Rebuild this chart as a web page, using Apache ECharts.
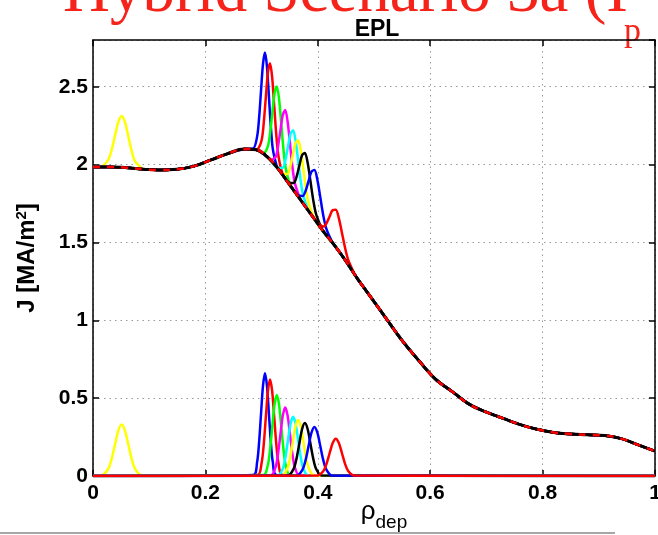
<!DOCTYPE html>
<html><head><meta charset="utf-8">
<script src="https://cdn.jsdelivr.net/npm/echarts@6/dist/echarts.min.js"></script>
<style>html,body{margin:0;padding:0;background:#fff}#c{width:658px;height:535px}</style>
</head><body><div id="c"></div>
<script>
// ---- data ----
const xTicks = [0, 0.2, 0.4, 0.6, 0.8, 1];
const yTicks = [0, 0.5, 1, 1.5, 2, 2.5];
const baseRho = [0, 0.03, 0.06, 0.09, 0.12, 0.15, 0.18, 0.21, 0.24, 0.27, 0.29, 0.31, 0.33, 0.35, 0.37, 0.39, 0.41, 0.43, 0.45, 0.47, 0.49, 0.52, 0.55, 0.58, 0.61, 0.64, 0.67, 0.70, 0.73, 0.76, 0.79, 0.82, 0.85, 0.88, 0.91, 0.94, 0.97, 1.0];
const baseJ   = [1.985, 1.985, 1.98, 1.97, 1.965, 1.97, 1.99, 2.03, 2.07, 2.10, 2.095, 2.05, 1.97, 1.87, 1.77, 1.67, 1.57, 1.48, 1.38, 1.27, 1.17, 1.02, 0.87, 0.74, 0.62, 0.54, 0.46, 0.41, 0.37, 0.33, 0.30, 0.28, 0.27, 0.265, 0.26, 0.24, 0.20, 0.16];

// deposition profiles [rho, J]
const depYellow0 = [[0.015,0.004],[0.027,0.045],[0.033,0.107],[0.039,0.20],[0.045,0.29],[0.051,0.33],[0.057,0.29],[0.063,0.20],[0.069,0.107],[0.075,0.045],[0.087,0.004]];
const depBlue1   = [[0.285,0.007],[0.292,0.089],[0.2955,0.215],[0.299,0.40],[0.3025,0.58],[0.306,0.66],[0.3095,0.58],[0.313,0.40],[0.3165,0.215],[0.320,0.089],[0.327,0.007]];
const depRed1    = [[0.2925,0.007],[0.300,0.084],[0.30375,0.20],[0.3075,0.376],[0.31125,0.547],[0.315,0.62],[0.31875,0.547],[0.3225,0.376],[0.32625,0.20],[0.330,0.084],[0.3375,0.007]];
const depGreen   = [[0.303,0.006],[0.311,0.070],[0.315,0.169],[0.319,0.316],[0.323,0.459],[0.327,0.52],[0.331,0.459],[0.335,0.316],[0.339,0.169],[0.343,0.070],[0.351,0.006]];
const depMagenta = [[0.3165,0.005],[0.325,0.059],[0.32925,0.143],[0.3335,0.267],[0.33775,0.388],[0.342,0.44],[0.34625,0.388],[0.3505,0.267],[0.35475,0.143],[0.359,0.059],[0.3675,0.005]];
const depCyan    = [[0.329,0.004],[0.338,0.051],[0.3425,0.124],[0.347,0.231],[0.3515,0.335],[0.356,0.38],[0.3605,0.335],[0.365,0.231],[0.3695,0.124],[0.374,0.051],[0.383,0.004]];
const depYellow1 = [[0.3365,0.004],[0.346,0.049],[0.35075,0.117],[0.3555,0.219],[0.36025,0.318],[0.365,0.36],[0.36975,0.318],[0.3745,0.219],[0.37925,0.117],[0.384,0.049],[0.3935,0.004]];
const depBlack   = [[0.347,0.004],[0.357,0.046],[0.362,0.11],[0.367,0.206],[0.372,0.30],[0.377,0.34],[0.382,0.30],[0.387,0.206],[0.392,0.11],[0.397,0.046],[0.407,0.004]];
const depBlue2   = [[0.3625,0.003],[0.373,0.043],[0.37825,0.102],[0.3835,0.191],[0.38875,0.278],[0.394,0.315],[0.39925,0.278],[0.4045,0.191],[0.40975,0.102],[0.415,0.043],[0.4255,0.003]];
const depRed2    = [[0.399,0.003],[0.410,0.032],[0.4155,0.078],[0.421,0.146],[0.4265,0.212],[0.432,0.24],[0.4375,0.212],[0.443,0.146],[0.4485,0.078],[0.454,0.032],[0.465,0.003]];

const profiles = [
  {d: depYellow0, c: '#ffff00'},
  {d: depBlue1,   c: '#0000ff'},
  {d: depRed1,    c: '#ff0000'},
  {d: depGreen,   c: '#00ff00'},
  {d: depMagenta, c: '#ff00ff'},
  {d: depCyan,    c: '#00ffff'},
  {d: depYellow1, c: '#ffff00'},
  {d: depBlack,   c: '#000000'},
  {d: depBlue2,   c: '#0000ff'},
  {d: depRed2,    c: '#ff0000'}
];

// ---- build ----
function baseAt(r) {
  for (let i = 0; i < baseRho.length - 1; i++) {
    if (r >= baseRho[i] && r <= baseRho[i + 1]) {
      const t = (r - baseRho[i]) / (baseRho[i + 1] - baseRho[i]);
      return baseJ[i] + t * (baseJ[i + 1] - baseJ[i]);
    }
  }
  return baseJ[baseJ.length - 1];
}
function topData(dep) {
  const r0 = dep[0][0], r1 = dep[dep.length - 1][0];
  const pts = [];
  baseRho.forEach((r, i) => { if (r < r0) pts.push([r, baseJ[i]]); });
  dep.forEach(p => pts.push([p[0], baseAt(p[0]) + p[1]]));
  baseRho.forEach((r, i) => { if (r > r1) pts.push([r, baseJ[i]]); });
  return pts;
}
function bottomData(dep) {
  return [[0, 0]].concat(dep, [[1, 0]]);
}
const baseData = baseRho.map((r, i) => [r, baseJ[i]]);

const series = [];
profiles.forEach(p => {
  series.push({type: 'line', data: bottomData(p.d), showSymbol: false, smooth: 0.3,
    lineStyle: {color: p.c, width: 2.5}, silent: true});
});
profiles.forEach(p => {
  series.push({type: 'line', data: topData(p.d), showSymbol: false, smooth: 0.3,
    lineStyle: {color: p.c, width: 2.5}, silent: true});
});
series.push({type: 'line', data: baseData, showSymbol: false, smooth: 0.5,
  lineStyle: {color: '#000', width: 3}, silent: true});
series.push({type: 'line', data: baseData, showSymbol: false, smooth: 0.5,
  lineStyle: {color: '#ff0000', width: 2.5, type: [7, 7]}, silent: true});

const font = '"Liberation Sans", Arial, sans-serif';
const chart = echarts.init(document.getElementById('c'), null, {renderer: 'canvas'});
const axisLine = {show: true, onZero: false, lineStyle: {color: '#000', width: 1.5}};
chart.setOption({
  animation: false,
  backgroundColor: '#fff',
  grid: {left: 93, right: 3, top: 40, bottom: 59, containLabel: false, outerBoundsMode: 'none'},
  graphic: [
    {type: 'text', left: 63, top: -39, z: 0, style: {text: 'Hybrid Scenario 3a (I', fill: '#f5231a', font: '65px "Liberation Serif", "Times New Roman", serif'}},
    {type: 'text', left: 624, top: 15, z: 0, style: {text: 'p', fill: '#f5231a', font: '34px "Liberation Serif", "Times New Roman", serif'}},
    {type: 'text', x: 377, y: 30, z: 10, style: {text: 'EPL', fill: '#000', font: 'bold 23px ' + font, textAlign: 'center', textVerticalAlign: 'middle'}},
    {type: 'line', z: 0, shape: {x1: 0, y1: 533, x2: 615, y2: 533}, style: {stroke: '#8a8a8a', lineWidth: 1.5}}
  ],
  xAxis: [{
    type: 'value', min: xTicks[0], max: xTicks[xTicks.length - 1], interval: 0.2, position: 'bottom',
    axisLine: axisLine,
    axisTick: {show: true, inside: true, length: 6, lineStyle: {color: '#000', width: 1.5}},
    axisLabel: {color: '#000', fontWeight: 'bold', fontSize: 21, fontFamily: font, margin: 7},
    splitLine: {show: true, lineStyle: {color: '#9a9a9a', type: [1.5, 4], width: 1}},
    name: '{r|ρ}{s|dep}', nameLocation: 'middle', nameGap: 21, nameMoveOverlap: false,
    nameTextStyle: {rich: {r: {fontSize: 26, fontFamily: font, color: '#000', padding: [0, 0, 6, 20]}, s: {fontSize: 19, fontFamily: font, color: '#000', padding: [16, 0, 0, 0]}}}
  }, {
    type: 'value', min: 0, max: 1, interval: 0.2, position: 'top',
    axisLine: axisLine,
    axisTick: {show: true, inside: true, length: 6, lineStyle: {color: '#000', width: 1.5}},
    axisLabel: {show: false}, splitLine: {show: false}
  }],
  yAxis: [{
    type: 'value', min: 0, max: 2.8, interval: 0.5, position: 'left',
    axisLine: axisLine,
    axisTick: {show: true, inside: true, length: 6, lineStyle: {color: '#000', width: 1.5}},
    axisLabel: {color: '#000', fontWeight: 'bold', fontSize: 21, fontFamily: font, margin: 5, showMaxLabel: false,
      formatter: v => (yTicks.indexOf(v) >= 0 ? String(v) : '')},
    splitLine: {show: true, lineStyle: {color: '#9a9a9a', type: [1.5, 4], width: 1}},
    name: 'J [MA/m{sup|2}]', nameLocation: 'middle', nameGap: 52, nameRotate: 90, nameMoveOverlap: false,
    nameTextStyle: {color: '#000', fontWeight: 'bold', fontSize: 24, fontFamily: font,
      rich: {sup: {fontSize: 15, fontWeight: 'bold', fontFamily: font, color: '#000', padding: [0, 0, 12, 0]}}}
  }, {
    type: 'value', min: 0, max: 2.8, interval: 0.5, position: 'right',
    axisLine: axisLine,
    axisTick: {show: true, inside: true, length: 6, lineStyle: {color: '#000', width: 1.5}},
    axisLabel: {show: false}, splitLine: {show: false}
  }],
  series: series
});
</script>
</body></html>
